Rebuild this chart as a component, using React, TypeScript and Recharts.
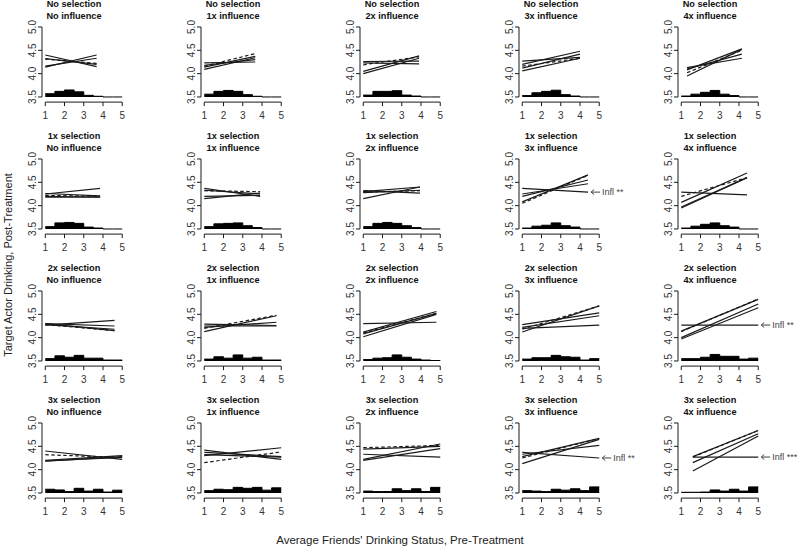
import React from 'react';
import { ComposedChart, Line, Area, XAxis, YAxis, ReferenceLine, ReferenceDot } from 'recharts';

const selectionLabels = ['No selection', '1x selection', '2x selection', '3x selection'];
const influenceLabels = ['No influence', '1x influence', '2x influence', '3x influence', '4x influence'];
const xTicks = [1, 2, 3, 4, 5];
const yTicks = [3.5, 4.0, 4.5, 5.0];
const binEdges = [1, 1.5, 2, 2.5, 3, 3.5, 4, 4.5, 5];

type Panel = { from: number; to: number; solid: number[][]; dashed: number[] };

// regression lines per panel: [y at start, y at end]
const noSelectionLines: Panel[] = [
  { from: 1, to: 3.67, solid: [[4.40, 4.15], [4.14, 4.40], [4.16, 4.33], [4.32, 4.20]], dashed: [4.31, 4.22] },
  { from: 1, to: 3.65, solid: [[4.23, 4.25], [4.18, 4.30], [4.14, 4.37], [4.09, 4.34]], dashed: [4.16, 4.43] },
  { from: 1, to: 3.9, solid: [[4.26, 4.27], [4.23, 4.21], [4.05, 4.38], [4.0, 4.33]], dashed: [4.19, 4.36] },
  { from: 1, to: 4.0, solid: [[4.27, 4.35], [4.2, 4.48], [4.12, 4.42], [4.06, 4.33]], dashed: [4.16, 4.33] },
  { from: 1.3, to: 4.15, solid: [[4.13, 4.33], [4.1, 4.42], [4.08, 4.53], [3.95, 4.52]], dashed: [4.02, 4.5] },
];
const oneSelectionLines: Panel[] = [
  { from: 1, to: 3.85, solid: [[4.25, 4.37], [4.26, 4.21], [4.18, 4.19], [4.2, 4.18]], dashed: [4.22, 4.2] },
  { from: 1, to: 3.9, solid: [[4.37, 4.2], [4.33, 4.25], [4.15, 4.27], [4.2, 4.22]], dashed: [4.32, 4.3] },
  { from: 1, to: 3.95, solid: [[4.32, 4.27], [4.3, 4.4], [4.15, 4.4], [4.28, 4.33]], dashed: [4.29, 4.32] },
  { from: 1, to: 4.42, solid: [[4.37, 4.29], [4.25, 4.47], [4.2, 4.55], [4.08, 4.66]], dashed: [4.05, 4.65] },
  { from: 1, to: 4.42, solid: [[4.29, 4.23], [4.07, 4.7], [3.97, 4.6], [3.95, 4.6]], dashed: [4.2, 4.6] },
];
const twoSelectionLines: Panel[] = [
  { from: 1, to: 4.6, solid: [[4.27, 4.37], [4.3, 4.25], [4.28, 4.18], [4.3, 4.15]], dashed: [4.28, 4.15] },
  { from: 1, to: 4.75, solid: [[4.29, 4.26], [4.22, 4.33], [4.13, 4.47], [4.25, 4.25]], dashed: [4.2, 4.48] },
  { from: 1, to: 4.8, solid: [[4.3, 4.33], [4.12, 4.56], [4.08, 4.52], [4.02, 4.5]], dashed: [4.1, 4.52] },
  { from: 1, to: 5, solid: [[4.2, 4.27], [4.28, 4.53], [4.22, 4.47], [4.12, 4.68]], dashed: [4.18, 4.68] },
  { from: 1, to: 5, solid: [[4.27, 4.27], [4.14, 4.82], [4.0, 4.72], [3.97, 4.64]], dashed: [4.13, 4.83] },
];
const threeSelectionLines: Panel[] = [
  { from: 1, to: 5, solid: [[4.4, 4.22], [4.2, 4.3], [4.18, 4.28], [4.19, 4.26]], dashed: [4.32, 4.26] },
  { from: 1, to: 5, solid: [[4.42, 4.22], [4.37, 4.28], [4.32, 4.27], [4.3, 4.47]], dashed: [4.15, 4.38] },
  { from: 1, to: 5, solid: [[4.44, 4.5], [4.33, 4.27], [4.22, 4.55], [4.2, 4.45]], dashed: [4.47, 4.52] },
  { from: 1, to: 5, solid: [[4.37, 4.25], [4.33, 4.52], [4.28, 4.67], [4.13, 4.65]], dashed: [4.25, 4.67] },
  { from: 1.6, to: 5, solid: [[4.27, 4.27], [4.28, 4.84], [4.15, 4.77], [3.97, 4.72]], dashed: [4.27, 4.84] },
];

// histogram bar tops, bins of 0.5 from 1 to 5
const noSelectionHist = [
  [3.57, 3.62, 3.65, 3.61, 3.535, 3.515, 3.5, 3.5],
  [3.56, 3.62, 3.64, 3.62, 3.55, 3.515, 3.5, 3.5],
  [3.54, 3.62, 3.62, 3.635, 3.54, 3.52, 3.5, 3.5],
  [3.53, 3.59, 3.62, 3.645, 3.55, 3.52, 3.5, 3.5],
  [3.52, 3.56, 3.6, 3.64, 3.56, 3.53, 3.5, 3.5],
];
const oneSelectionHist = [
  [3.55, 3.63, 3.64, 3.62, 3.54, 3.52, 3.5, 3.5],
  [3.55, 3.61, 3.62, 3.63, 3.57, 3.53, 3.5, 3.5],
  [3.55, 3.62, 3.64, 3.62, 3.57, 3.53, 3.5, 3.5],
  [3.52, 3.56, 3.58, 3.63, 3.57, 3.54, 3.5, 3.5],
  [3.52, 3.56, 3.6, 3.63, 3.57, 3.54, 3.5, 3.5],
];
const twoSelectionHist = [
  [3.55, 3.61, 3.58, 3.62, 3.56, 3.56, 3.52, 3.52],
  [3.54, 3.59, 3.56, 3.63, 3.56, 3.58, 3.52, 3.52],
  [3.53, 3.56, 3.57, 3.63, 3.58, 3.54, 3.52, 3.51],
  [3.54, 3.57, 3.57, 3.62, 3.59, 3.58, 3.52, 3.55],
  [3.55, 3.55, 3.58, 3.64, 3.6, 3.6, 3.54, 3.56],
];
const threeSelectionHist = [
  [3.58, 3.565, 3.53, 3.6, 3.54, 3.58, 3.52, 3.56],
  [3.55, 3.58, 3.57, 3.62, 3.6, 3.62, 3.56, 3.61],
  [3.54, 3.53, 3.53, 3.59, 3.55, 3.59, 3.53, 3.62],
  [3.55, 3.54, 3.53, 3.58, 3.56, 3.59, 3.55, 3.63],
  [3.515, 3.515, 3.52, 3.565, 3.54, 3.58, 3.54, 3.63],
];

const annotations = [
  { row: 1, col: 3, x: 4.42, y: 4.29, text: 'Infl **' },
  { row: 2, col: 4, x: 5, y: 4.27, text: 'Infl **' },
  { row: 3, col: 3, x: 5, y: 4.25, text: 'Infl **' },
  { row: 3, col: 4, x: 5, y: 4.27, text: 'Infl ***' },
];

const lineRows = [noSelectionLines, oneSelectionLines, twoSelectionLines, threeSelectionLines];
const histRows = [noSelectionHist, oneSelectionHist, twoSelectionHist, threeSelectionHist];

const FONT = '"Liberation Sans", Arial, sans-serif';
const COL_W = 159;
const ROW_H = 132;
const INK = '#1a1a1a';

const RotatedTick = (props: any) => {
  const { x, y, payload } = props;
  return (
    <text x={x} y={y} transform={`rotate(-90 ${x} ${y})`} textAnchor="middle" fontSize={10} fill="#333" fontFamily={FONT}>
      {Number(payload.value).toFixed(1)}
    </text>
  );
};

const ArrowNote = (props: any) => {
  const { cx, cy, text } = props;
  const tip = cx + 3;
  return (
    <g>
      <line x1={tip} y1={cy} x2={tip + 9} y2={cy} stroke="#444" strokeWidth={1} />
      <polyline points={`${tip + 3},${cy - 2.5} ${tip},${cy} ${tip + 3},${cy + 2.5}`} fill="none" stroke="#444" strokeWidth={1} />
      <text x={tip + 11} y={cy + 3.3} fontSize={9} fill="#444" fontFamily={FONT}>{text}</text>
    </g>
  );
};

function SmallPanel({ row, col }: { row: number; col: number }) {
  const p = lineRows[row][col];
  const hist = histRows[row][col];
  const histData = binEdges.map((x, i) => ({ x, h: hist[Math.min(i, hist.length - 1)] }));
  const notes = annotations.filter((a) => a.row === row && a.col === col);
  return (
    <div style={{ position: 'absolute', left: col * COL_W, top: row * ROW_H, width: 164, height: 132 }}>
      <ComposedChart width={164} height={132} margin={{ top: 24.2, right: 38.5, bottom: 4.9, left: 22 }}>
        <XAxis
          type="number"
          dataKey="x"
          domain={[0.83, 5.17]}
          ticks={xTicks}
          interval={0}
          allowDataOverflow
          axisLine={false}
          tickSize={4}
          tickMargin={6}
          height={25}
          tickLine={{ stroke: INK }}
          tick={{ fontSize: 10, fill: '#333', fontFamily: FONT }}
        />
        <YAxis
          type="number"
          domain={[3.39, 5.06]}
          ticks={yTicks}
          interval={0}
          allowDataOverflow
          axisLine={false}
          tickSize={4}
          tickMargin={2}
          width={20}
          tickLine={{ stroke: INK }}
          tick={<RotatedTick />}
        />
        <ReferenceLine segment={[{ x: 1, y: 3.39 }, { x: 5, y: 3.39 }]} stroke={INK} ifOverflow="visible" />
        <ReferenceLine segment={[{ x: 0.83, y: 3.5 }, { x: 0.83, y: 5 }]} stroke={INK} ifOverflow="visible" />
        <Area
          data={histData}
          dataKey="h"
          type="stepAfter"
          baseValue={3.5}
          fill="#000"
          fillOpacity={1}
          stroke="#000"
          strokeWidth={1}
          isAnimationActive={false}
          dot={false}
          activeDot={false}
        />
        {p.solid.map(([a, b], i) => (
          <Line
            key={`s${i}`}
            data={[{ x: p.from, y: a }, { x: p.to, y: b }]}
            dataKey="y"
            type="linear"
            stroke={INK}
            strokeWidth={1.2}
            dot={false}
            activeDot={false}
            isAnimationActive={false}
          />
        ))}
        <Line
          data={[{ x: p.from, y: p.dashed[0] }, { x: p.to, y: p.dashed[1] }]}
          dataKey="y"
          type="linear"
          stroke={INK}
          strokeWidth={1.2}
          strokeDasharray="3.5 2.5"
          dot={false}
          activeDot={false}
          isAnimationActive={false}
        />
        {notes.map((a, i) => (
          <ReferenceDot
            key={`n${i}`}
            x={a.x}
            y={a.y}
            r={0}
            ifOverflow="visible"
            shape={(sp: any) => <ArrowNote {...sp} text={a.text} />}
          />
        ))}
      </ComposedChart>
      <div
        style={{
          position: 'absolute',
          left: 74,
          top: -1,
          transform: 'translateX(-50%)',
          textAlign: 'center',
          whiteSpace: 'nowrap',
          fontFamily: FONT,
          fontWeight: 'bold',
          fontSize: 9.2,
          lineHeight: '11.5px',
          color: '#111',
        }}
      >
        {selectionLabels[row]}
        <br />
        {influenceLabels[col]}
      </div>
    </div>
  );
}

export default function App() {
  return (
    <div style={{ position: 'absolute', left: 0, top: 0, width: 800, height: 550, background: '#fff', overflow: 'hidden' }}>
      {selectionLabels.map((_, r) =>
        influenceLabels.map((__, c) => <SmallPanel key={`${r}-${c}`} row={r} col={c} />)
      )}
      <div
        style={{
          position: 'absolute',
          left: 8,
          top: 265,
          transform: 'translate(-50%, -50%) rotate(-90deg)',
          whiteSpace: 'nowrap',
          fontFamily: FONT,
          fontSize: 11,
          color: '#222',
        }}
      >
        Target Actor Drinking, Post-Treatment
      </div>
      <div
        style={{
          position: 'absolute',
          left: 400,
          top: 540,
          transform: 'translate(-50%, -50%)',
          whiteSpace: 'nowrap',
          fontFamily: FONT,
          fontSize: 11.5,
          color: '#222',
        }}
      >
        Average Friends' Drinking Status, Pre-Treatment
      </div>
    </div>
  );
}
